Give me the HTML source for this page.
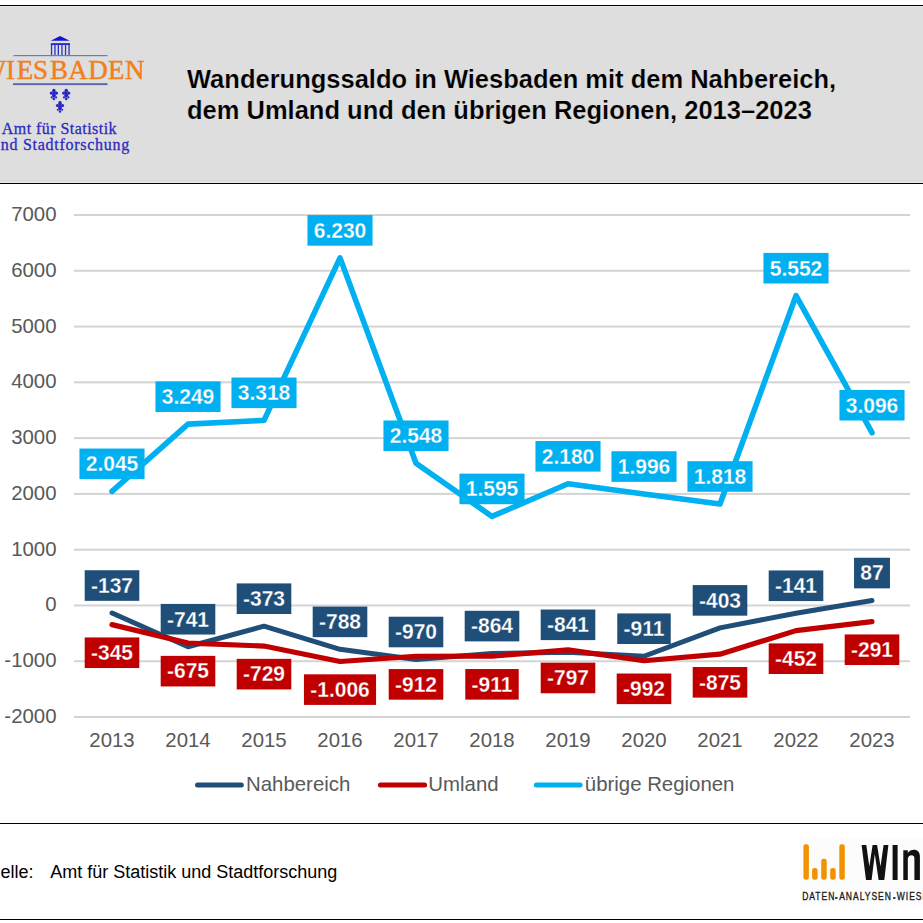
<!DOCTYPE html>
<html><head><meta charset="utf-8">
<style>
html,body{margin:0;padding:0;background:#fff;}
body{width:923px;height:923px;position:relative;overflow:hidden;font-family:"Liberation Sans",sans-serif;}
svg{position:absolute;left:0;top:0;}
.ax{font-family:"Liberation Sans",sans-serif;font-size:20.4px;fill:#595959;}
.lb{font-family:"Liberation Sans",sans-serif;font-size:21px;font-weight:bold;fill:#fff;}
.tt{font-family:"Liberation Sans",sans-serif;font-size:25.5px;font-weight:bold;fill:#000;stroke:#DEDEDE;stroke-width:0.22px;}
.ft{font-family:"Liberation Sans",sans-serif;font-size:18px;fill:#000;}
.sr{font-family:"Liberation Serif",serif;}
</style></head>
<body>
<svg width="923" height="923" viewBox="0 0 923 923">
<!-- header -->
<rect x="0" y="5" width="923" height="179" fill="#000"/>
<rect x="0" y="6" width="923" height="177" fill="#EBEBEB"/>
<rect x="0" y="7" width="923" height="175" fill="#DEDEDE"/>
<!-- Wiesbaden logo -->
<g id="logo">
  <polygon points="50.7,40.8 60.1,36 69.7,40.8" fill="#1414CC"/>
  <rect x="50.9" y="43.2" width="19.1" height="1.8" fill="#2020C0"/>
  <g fill="#2A32C0">
    <rect x="50.9" y="44" width="1.3" height="11.6"/>
    <rect x="54.3" y="44" width="1.3" height="11.6"/>
    <rect x="57.7" y="44" width="1.3" height="11.6"/>
    <rect x="61.3" y="44" width="1.3" height="11.6"/>
    <rect x="64.9" y="44" width="1.3" height="11.6"/>
    <rect x="68.4" y="44" width="1.3" height="11.6"/>
  </g>
  <rect x="13.5" y="55" width="94" height="1.2" fill="#7078C0"/>
  <text x="-19.5 5.95 16.77 32.9 49.9 68.23 88.17 108.11 125.05" y="79.3" class="sr" font-size="27" fill="#F08020" stroke="#F08020" stroke-width="0.45">WIESBADEN</text>
  <rect x="13" y="83.2" width="94.5" height="1.9" fill="#5A64A8"/>
  <defs>
    <g id="fleur" fill="#2424C4">
      <ellipse cx="0" cy="-3.3" rx="1.8" ry="2.4"/>
      <circle cx="-2.6" cy="-1.3" r="1.55"/>
      <circle cx="2.6" cy="-1.3" r="1.55"/>
      <ellipse cx="0" cy="0.8" rx="1.9" ry="2.6"/>
      <circle cx="-2.2" cy="3.0" r="1.05"/>
      <circle cx="2.2" cy="3.0" r="1.05"/>
      <circle cx="0" cy="4.6" r="1.25"/>
    </g>
  </defs>
  <use href="#fleur" x="53.9" y="94.4"/>
  <use href="#fleur" x="66.2" y="94.4"/>
  <use href="#fleur" x="60" y="106.8"/>
  <text x="1.8" y="134" class="sr" font-size="16" fill="#2C2CC0" stroke="#2C2CC0" stroke-width="0.3" letter-spacing="0.45">Amt für Statistik</text>
  <text x="-8" y="150.3" class="sr" font-size="16" fill="#2C2CC0" stroke="#2C2CC0" stroke-width="0.3" letter-spacing="0.73">und Stadtforschung</text>
</g>
<text transform="translate(187,87.7) scale(1,1.045)" class="tt">Wanderungssaldo in Wiesbaden mit dem Nahbereich,</text>
<text transform="translate(187,118.5) scale(1,1.045)" class="tt">dem Umland und den übrigen Regionen, 2013–2023</text>
<!-- chart -->
<rect x="74" y="214.00" width="836" height="2" fill="#D4D4D4"/>
<text x="56.5" y="221.00" class="ax" text-anchor="end">7000</text>
<rect x="74" y="269.78" width="836" height="2" fill="#D4D4D4"/>
<text x="56.5" y="276.78" class="ax" text-anchor="end">6000</text>
<rect x="74" y="325.56" width="836" height="2" fill="#D4D4D4"/>
<text x="56.5" y="332.56" class="ax" text-anchor="end">5000</text>
<rect x="74" y="381.34" width="836" height="2" fill="#D4D4D4"/>
<text x="56.5" y="388.34" class="ax" text-anchor="end">4000</text>
<rect x="74" y="437.12" width="836" height="2" fill="#D4D4D4"/>
<text x="56.5" y="444.12" class="ax" text-anchor="end">3000</text>
<rect x="74" y="492.90" width="836" height="2" fill="#D4D4D4"/>
<text x="56.5" y="499.90" class="ax" text-anchor="end">2000</text>
<rect x="74" y="548.68" width="836" height="2" fill="#D4D4D4"/>
<text x="56.5" y="555.68" class="ax" text-anchor="end">1000</text>
<rect x="74" y="604.46" width="836" height="2" fill="#D4D4D4"/>
<text x="56.5" y="611.46" class="ax" text-anchor="end">0</text>
<rect x="74" y="660.24" width="836" height="2" fill="#D4D4D4"/>
<text x="56.5" y="667.24" class="ax" text-anchor="end">-1000</text>
<rect x="74" y="716.02" width="836" height="2" fill="#D4D4D4"/>
<text x="56.5" y="723.02" class="ax" text-anchor="end">-2000</text>
<text x="112.00" y="747" class="ax" text-anchor="middle">2013</text>
<text x="188.00" y="747" class="ax" text-anchor="middle">2014</text>
<text x="264.00" y="747" class="ax" text-anchor="middle">2015</text>
<text x="340.00" y="747" class="ax" text-anchor="middle">2016</text>
<text x="416.00" y="747" class="ax" text-anchor="middle">2017</text>
<text x="492.00" y="747" class="ax" text-anchor="middle">2018</text>
<text x="568.00" y="747" class="ax" text-anchor="middle">2019</text>
<text x="644.00" y="747" class="ax" text-anchor="middle">2020</text>
<text x="720.00" y="747" class="ax" text-anchor="middle">2021</text>
<text x="796.00" y="747" class="ax" text-anchor="middle">2022</text>
<text x="872.00" y="747" class="ax" text-anchor="middle">2023</text>
<polyline points="112.00,613.04 188.00,646.73 264.00,626.21 340.00,649.35 416.00,659.51 492.00,653.59 568.00,652.31 644.00,656.22 720.00,627.88 796.00,613.26 872.00,600.55" fill="none" stroke="#1F4E79" stroke-width="5" stroke-linejoin="round" stroke-linecap="round"/>
<polyline points="112.00,624.64 188.00,643.05 264.00,646.06 340.00,661.51 416.00,656.27 492.00,656.22 568.00,649.86 644.00,660.73 720.00,654.21 796.00,630.61 872.00,621.63" fill="none" stroke="#C00000" stroke-width="5.2" stroke-linejoin="round" stroke-linecap="round"/>
<polyline points="112.00,491.33 188.00,424.17 264.00,420.32 340.00,257.89 416.00,463.27 492.00,516.43 568.00,483.80 644.00,494.06 720.00,503.99 796.00,295.71 872.00,432.71" fill="none" stroke="#00B0F0" stroke-width="5.6" stroke-linejoin="round" stroke-linecap="round"/>
<rect x="84.69" y="570.24" width="54.62" height="30.6" fill="#1F4E79"/>
<text transform="translate(112.00,592.84) scale(1,1.05)" class="lb" text-anchor="middle" stroke="#1F4E79" stroke-width="0.25">-137</text>
<rect x="160.69" y="603.93" width="54.62" height="30.6" fill="#1F4E79"/>
<text transform="translate(188.00,626.53) scale(1,1.05)" class="lb" text-anchor="middle" stroke="#1F4E79" stroke-width="0.25">-741</text>
<rect x="236.69" y="583.41" width="54.62" height="30.6" fill="#1F4E79"/>
<text transform="translate(264.00,606.01) scale(1,1.05)" class="lb" text-anchor="middle" stroke="#1F4E79" stroke-width="0.25">-373</text>
<rect x="312.69" y="606.55" width="54.62" height="30.6" fill="#1F4E79"/>
<text transform="translate(340.00,629.15) scale(1,1.05)" class="lb" text-anchor="middle" stroke="#1F4E79" stroke-width="0.25">-788</text>
<rect x="388.69" y="616.71" width="54.62" height="30.6" fill="#1F4E79"/>
<text transform="translate(416.00,639.31) scale(1,1.05)" class="lb" text-anchor="middle" stroke="#1F4E79" stroke-width="0.25">-970</text>
<rect x="464.69" y="610.79" width="54.62" height="30.6" fill="#1F4E79"/>
<text transform="translate(492.00,633.39) scale(1,1.05)" class="lb" text-anchor="middle" stroke="#1F4E79" stroke-width="0.25">-864</text>
<rect x="540.69" y="609.51" width="54.62" height="30.6" fill="#1F4E79"/>
<text transform="translate(568.00,632.11) scale(1,1.05)" class="lb" text-anchor="middle" stroke="#1F4E79" stroke-width="0.25">-841</text>
<rect x="617.27" y="613.42" width="53.46" height="30.6" fill="#1F4E79"/>
<text transform="translate(644.00,636.02) scale(1,1.05)" class="lb" text-anchor="middle" stroke="#1F4E79" stroke-width="0.25">-911</text>
<rect x="692.69" y="585.08" width="54.62" height="30.6" fill="#1F4E79"/>
<text transform="translate(720.00,607.68) scale(1,1.05)" class="lb" text-anchor="middle" stroke="#1F4E79" stroke-width="0.25">-403</text>
<rect x="768.69" y="570.46" width="54.62" height="30.6" fill="#1F4E79"/>
<text transform="translate(796.00,593.06) scale(1,1.05)" class="lb" text-anchor="middle" stroke="#1F4E79" stroke-width="0.25">-141</text>
<rect x="854.03" y="557.75" width="35.94" height="30.6" fill="#1F4E79"/>
<text transform="translate(872.00,580.35) scale(1,1.05)" class="lb" text-anchor="middle" stroke="#1F4E79" stroke-width="0.25">87</text>
<rect x="84.69" y="637.44" width="54.62" height="30.6" fill="#C00000"/>
<text transform="translate(112.00,660.04) scale(1,1.05)" class="lb" text-anchor="middle" stroke="#C00000" stroke-width="0.25">-345</text>
<rect x="160.69" y="655.85" width="54.62" height="30.6" fill="#C00000"/>
<text transform="translate(188.00,678.45) scale(1,1.05)" class="lb" text-anchor="middle" stroke="#C00000" stroke-width="0.25">-675</text>
<rect x="236.69" y="658.86" width="54.62" height="30.6" fill="#C00000"/>
<text transform="translate(264.00,681.46) scale(1,1.05)" class="lb" text-anchor="middle" stroke="#C00000" stroke-width="0.25">-729</text>
<rect x="303.94" y="674.31" width="72.12" height="30.6" fill="#C00000"/>
<text transform="translate(340.00,696.91) scale(1,1.05)" class="lb" text-anchor="middle" stroke="#C00000" stroke-width="0.25">-1.006</text>
<rect x="388.69" y="669.07" width="54.62" height="30.6" fill="#C00000"/>
<text transform="translate(416.00,691.67) scale(1,1.05)" class="lb" text-anchor="middle" stroke="#C00000" stroke-width="0.25">-912</text>
<rect x="465.27" y="669.02" width="53.46" height="30.6" fill="#C00000"/>
<text transform="translate(492.00,691.62) scale(1,1.05)" class="lb" text-anchor="middle" stroke="#C00000" stroke-width="0.25">-911</text>
<rect x="540.69" y="662.66" width="54.62" height="30.6" fill="#C00000"/>
<text transform="translate(568.00,685.26) scale(1,1.05)" class="lb" text-anchor="middle" stroke="#C00000" stroke-width="0.25">-797</text>
<rect x="616.69" y="673.53" width="54.62" height="30.6" fill="#C00000"/>
<text transform="translate(644.00,696.13) scale(1,1.05)" class="lb" text-anchor="middle" stroke="#C00000" stroke-width="0.25">-992</text>
<rect x="692.69" y="667.01" width="54.62" height="30.6" fill="#C00000"/>
<text transform="translate(720.00,689.61) scale(1,1.05)" class="lb" text-anchor="middle" stroke="#C00000" stroke-width="0.25">-875</text>
<rect x="768.69" y="643.41" width="54.62" height="30.6" fill="#C00000"/>
<text transform="translate(796.00,666.01) scale(1,1.05)" class="lb" text-anchor="middle" stroke="#C00000" stroke-width="0.25">-452</text>
<rect x="844.69" y="634.43" width="54.62" height="30.6" fill="#C00000"/>
<text transform="translate(872.00,657.03) scale(1,1.05)" class="lb" text-anchor="middle" stroke="#C00000" stroke-width="0.25">-291</text>
<rect x="79.44" y="448.53" width="65.12" height="30.6" fill="#00B0F0"/>
<text transform="translate(112.00,471.13) scale(1,1.05)" class="lb" text-anchor="middle" stroke="#00B0F0" stroke-width="0.25">2.045</text>
<rect x="155.44" y="381.37" width="65.12" height="30.6" fill="#00B0F0"/>
<text transform="translate(188.00,403.97) scale(1,1.05)" class="lb" text-anchor="middle" stroke="#00B0F0" stroke-width="0.25">3.249</text>
<rect x="231.44" y="377.52" width="65.12" height="30.6" fill="#00B0F0"/>
<text transform="translate(264.00,400.12) scale(1,1.05)" class="lb" text-anchor="middle" stroke="#00B0F0" stroke-width="0.25">3.318</text>
<rect x="307.44" y="215.09" width="65.12" height="30.6" fill="#00B0F0"/>
<text transform="translate(340.00,237.69) scale(1,1.05)" class="lb" text-anchor="middle" stroke="#00B0F0" stroke-width="0.25">6.230</text>
<rect x="383.44" y="420.47" width="65.12" height="30.6" fill="#00B0F0"/>
<text transform="translate(416.00,443.07) scale(1,1.05)" class="lb" text-anchor="middle" stroke="#00B0F0" stroke-width="0.25">2.548</text>
<rect x="459.44" y="473.63" width="65.12" height="30.6" fill="#00B0F0"/>
<text transform="translate(492.00,496.23) scale(1,1.05)" class="lb" text-anchor="middle" stroke="#00B0F0" stroke-width="0.25">1.595</text>
<rect x="535.44" y="441.00" width="65.12" height="30.6" fill="#00B0F0"/>
<text transform="translate(568.00,463.60) scale(1,1.05)" class="lb" text-anchor="middle" stroke="#00B0F0" stroke-width="0.25">2.180</text>
<rect x="611.44" y="451.26" width="65.12" height="30.6" fill="#00B0F0"/>
<text transform="translate(644.00,473.86) scale(1,1.05)" class="lb" text-anchor="middle" stroke="#00B0F0" stroke-width="0.25">1.996</text>
<rect x="687.44" y="461.19" width="65.12" height="30.6" fill="#00B0F0"/>
<text transform="translate(720.00,483.79) scale(1,1.05)" class="lb" text-anchor="middle" stroke="#00B0F0" stroke-width="0.25">1.818</text>
<rect x="763.44" y="252.91" width="65.12" height="30.6" fill="#00B0F0"/>
<text transform="translate(796.00,275.51) scale(1,1.05)" class="lb" text-anchor="middle" stroke="#00B0F0" stroke-width="0.25">5.552</text>
<rect x="839.44" y="389.91" width="65.12" height="30.6" fill="#00B0F0"/>
<text transform="translate(872.00,412.51) scale(1,1.05)" class="lb" text-anchor="middle" stroke="#00B0F0" stroke-width="0.25">3.096</text>
<line x1="197.5" y1="785" x2="241.3" y2="785" stroke="#1F4E79" stroke-width="5" stroke-linecap="round"/>
<text x="246" y="791" class="ax">Nahbereich</text>
<line x1="380.4" y1="785" x2="424.6" y2="785" stroke="#C00000" stroke-width="5" stroke-linecap="round"/>
<text x="428.3" y="791" class="ax">Umland</text>
<line x1="536.4" y1="785" x2="580.1" y2="785" stroke="#00B0F0" stroke-width="5" stroke-linecap="round"/>
<text x="584.8" y="791" class="ax">übrige Regionen</text>
<!-- footer -->
<rect x="0" y="823" width="923" height="1" fill="#000"/>
<rect x="0" y="919" width="923" height="1" fill="#000"/>
<text x="-23.6" y="878" class="ft">Quelle:</text>
<text x="50.2" y="878" class="ft">Amt für Statistik und Stadtforschung</text>
<!-- WIn logo -->
<g id="win">
  <rect x="800" y="838" width="123" height="67" fill="#FCFCFC"/>
  <g fill="#F39200">
    <rect x="803.4" y="844.3" width="5.5" height="35.5" rx="2.3"/>
    <rect x="812.1" y="868.1" width="5.5" height="11.7" rx="2.3"/>
    <rect x="821.2" y="858.7" width="5.5" height="21.1" rx="2.3"/>
    <rect x="830.2" y="868.1" width="5.5" height="11.7" rx="2.3"/>
    <rect x="839.3" y="844.3" width="5.5" height="35.5" rx="2.3"/>
  </g>
  <g fill="#111">
    <polygon points="861.6,845 866.3,845 869.3,866.5 872.6,845 877.1,845 880.5,866.5 883.6,845 888.4,845 884.3,880 878.6,880 874.8,854 871.6,880 866,880"/>
    <rect x="892.6" y="845" width="5" height="35"/>
    <path d="M903.3,880 V850.2 H907.8 V852.8 C909.5,850.6 911.5,849.7 913.8,849.7 C917.6,849.7 919.9,852.3 919.9,856.5 V880 H914.4 V858.5 C914.4,856.3 913.4,855.2 911.6,855.2 C909.6,855.2 907.8,856.6 907.8,859 V880 Z"/>
  </g>
  <g fill="#1A1A1A" stroke="#1A1A1A" stroke-width="0.35" font-family="Liberation Sans" font-size="11.2" letter-spacing="1.3">
    <text transform="translate(802.2,900.2) scale(0.76,1)">DATEN</text>
    <rect x="835.3" y="897.3" width="2" height="1.5"/>
    <text transform="translate(839.2,900.2) scale(0.76,1)">ANALYSEN</text>
    <rect x="893.3" y="897.3" width="2" height="1.5"/>
    <text transform="translate(896.8,900.2) scale(0.76,1)">WIESBADEN</text>
  </g>
</g>
</svg>
</body></html>
